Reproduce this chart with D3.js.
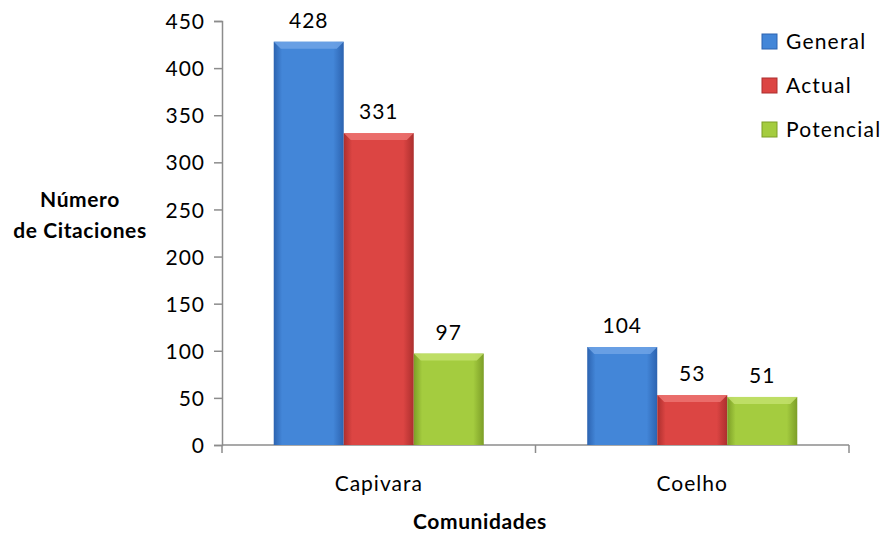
<!DOCTYPE html>
<html>
<head>
<meta charset="utf-8">
<script src="https://cdn.jsdelivr.net/npm/d3@7"></script>
<style>
  body { margin: 0; background: #fff; }
  text { font-family: Lato, "Open Sans", sans-serif; fill: #000; }
  .tick-label { font-size: 21px; letter-spacing: 1px; }
  .val { font-size: 21px; letter-spacing: 1px; }
  .title { font-size: 21px; font-weight: bold; letter-spacing: 0.6px; }
  .leg { font-size: 21px; letter-spacing: 1.2px; }
</style>
</head>
<body>
<div id="chart"></div>
<script>
var categories = ["Capivara", "Coelho"];
var series = ["General", "Actual", "Potencial"];
var general = [428, 104];
var actual = [331, 53];
var potencial = [97, 51];
var yTicks = [0, 50, 100, 150, 200, 250, 300, 350, 400, 450];

var values = [general, actual, potencial];
var colors = [
  {mid: "#4386d8", edge: "#2c63b0", top: "#6fa3e6"},
  {mid: "#dc4543", edge: "#ac2f2e", top: "#ec7371"},
  {mid: "#a4cc3f", edge: "#7c9e27", top: "#c3e06c"}
];

var W = 887, H = 535;
var plotLeft = 222, plotRight = 849, plotTop = 21, plotBottom = 445;

var svg = d3.select("#chart").append("svg")
    .attr("width", W)
    .attr("height", H);

var defs = svg.append("defs");
colors.forEach(function(c, i) {
  var g = defs.append("linearGradient")
      .attr("id", "grad" + i)
      .attr("x1", "0%").attr("x2", "100%").attr("y1", "0%").attr("y2", "0%");
  g.append("stop").attr("offset", "0%").attr("stop-color", c.edge);
  g.append("stop").attr("offset", "12%").attr("stop-color", c.mid);
  g.append("stop").attr("offset", "85%").attr("stop-color", c.mid);
  g.append("stop").attr("offset", "100%").attr("stop-color", c.edge);
});

var y = d3.scaleLinear().domain([0, 450]).range([plotBottom, plotTop]);
var x0 = d3.scaleBand().domain(categories).range([plotLeft, plotRight])
    .paddingInner(0.33).paddingOuter(0.165);
var x1 = d3.scaleBand().domain(series).range([0, x0.bandwidth()]);

// y axis
var yAxis = svg.append("g")
    .attr("transform", "translate(" + plotLeft + ",0)")
    .call(d3.axisLeft(y).tickValues(yTicks).tickSize(8).tickPadding(9));
yAxis.select(".domain").attr("stroke", "#8c8c8c").attr("stroke-width", 1.5);
yAxis.selectAll(".tick line").attr("stroke", "#8c8c8c").attr("stroke-width", 1.5);
yAxis.selectAll(".tick text").attr("class", "tick-label")
    .attr("font-family", null).attr("dy", "0.36em");
yAxis.attr("font-size", null).attr("font-family", null);

// x axis
var xAxisG = svg.append("g")
    .attr("transform", "translate(0," + plotBottom + ")");
xAxisG.append("line")
    .attr("x1", plotLeft).attr("x2", plotRight)
    .attr("stroke", "#8c8c8c").attr("stroke-width", 1.5);
var bounds = [plotLeft, (x0(categories[0]) + x0.bandwidth() + x0(categories[1])) / 2, plotRight];
xAxisG.selectAll(".xt").data(bounds).enter().append("line")
    .attr("x1", function(d) { return d; }).attr("x2", function(d) { return d; })
    .attr("y1", 0).attr("y2", 8)
    .attr("stroke", "#8c8c8c").attr("stroke-width", 1.5);
xAxisG.selectAll(".xl").data(categories).enter().append("text")
    .attr("class", "tick-label")
    .attr("x", function(d) { return x0(d) + x0.bandwidth() / 2; })
    .attr("y", 46)
    .attr("text-anchor", "middle")
    .text(function(d) { return d; });

// bars
var groups = svg.selectAll(".grp").data(categories).enter().append("g")
    .attr("transform", function(d) { return "translate(" + x0(d) + ",0)"; });

groups.each(function(cat, ci) {
  var g = d3.select(this);
  series.forEach(function(s, si) {
    var v = values[si][ci];
    var bx = x1(s), bw = x1.bandwidth(), by = y(v), bh = y(0) - y(v);
    g.append("rect")
        .attr("x", bx).attr("y", by)
        .attr("width", bw).attr("height", bh)
        .attr("fill", "url(#grad" + si + ")");
    // top bevel
    var bev = Math.min(7, bh / 2);
    g.append("path")
        .attr("d", "M" + bx + "," + by + "L" + (bx + bw) + "," + by +
              "L" + (bx + bw - bev) + "," + (by + bev) + "L" + (bx + bev) + "," + (by + bev) + "Z")
        .attr("fill", colors[si].top).attr("opacity", 0.85);
    g.append("text")
        .attr("class", "val")
        .attr("x", bx + bw / 2)
        .attr("y", by - 14)
        .attr("text-anchor", "middle")
        .text(v);
  });
});

// axis titles
svg.append("text").attr("class", "title")
    .attr("x", 80).attr("y", 207).attr("text-anchor", "middle").text("Número");
svg.append("text").attr("class", "title")
    .attr("x", 80).attr("y", 238).attr("text-anchor", "middle").text("de Citaciones");
svg.append("text").attr("class", "title")
    .attr("x", 480).attr("y", 529).attr("text-anchor", "middle").text("Comunidades");

// legend
var leg = svg.selectAll(".leg-item").data(series).enter().append("g")
    .attr("transform", function(d, i) { return "translate(762," + (34 + i * 44) + ")"; });
leg.append("rect")
    .attr("width", 15).attr("height", 15)
    .attr("fill", function(d, i) { return colors[i].mid; })
    .attr("stroke", function(d, i) { return colors[i].edge; });
leg.append("text")
    .attr("class", "leg")
    .attr("x", 24).attr("y", 15)
    .text(function(d) { return d; });
</script>
</body>
</html>
